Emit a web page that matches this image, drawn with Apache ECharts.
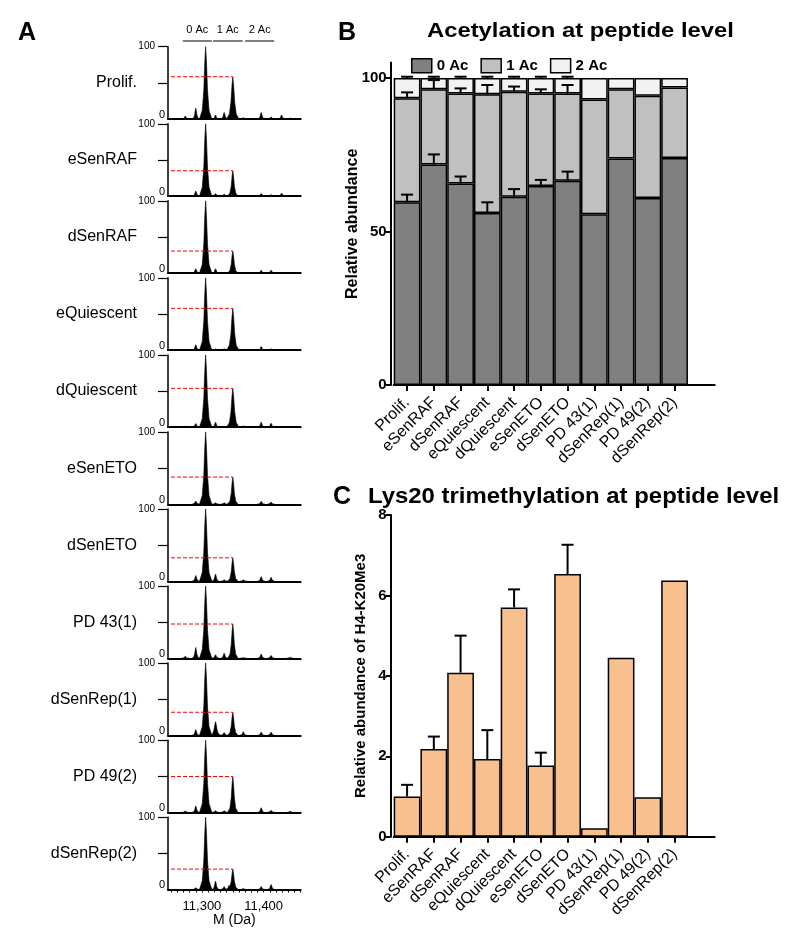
<!DOCTYPE html>
<html><head><meta charset="utf-8">
<script src="https://cdn.jsdelivr.net/npm/echarts@6/dist/echarts.min.js"></script>
<style>html,body{margin:0;padding:0;background:#fff}#c{width:800px;height:943px}</style>
</head><body><div id="c"></div>
<script>
// ---------- shared categories ----------
const samples = ['Prolif.', 'eSenRAF', 'dSenRAF', 'eQuiescent', 'dQuiescent', 'eSenETO', 'dSenETO', 'PD 43(1)', 'dSenRep(1)', 'PD 49(2)', 'dSenRep(2)'];

// ---------- Panel A: deconvoluted spectra (peak mass, relative intensity) ----------
const peakMass = [11273, 11290, 11306, 11322, 11336, 11344, 11350, 11367, 11396, 11412, 11429, 11443];
const acPeakMass = 11350; // 1 Ac peak (dashed red reference)
const specProlif     = [4,   15,  100, 5.5,  9,   0, 58.5, 2,   9,   3,   5.5, 1.5];
const specESenRAF    = [1,   7,   100, 3.5,  2.5, 0, 35,   0,   3.5, 2,   4,   0];
const specDSenRAF    = [0,   6,   100, 6,    1,   0, 30.5, 0,   4,   4,   1,   0];
const specEQuiescent = [0,   7.5, 100, 2,    2,   0, 57.8, 0,   5,   2,   0,   0];
const specDQuiescent = [1.5, 5,   100, 7,    1,   0, 53.7, 2,   7,   5.5, 0,   0];
const specESenETO    = [0,   4.5, 100, 2,    2,   0, 37.6, 0,   4,   3,   0,   0];
const specDSenETO    = [0,   8,   100, 10,   2,   0, 32.5, 2,   6.5, 5.5, 0,   0];
const specPD43       = [3,   15,  100, 5,    7,   0, 47.5, 1,   6,   4,   0,   1.5];
const specDSenRep1   = [0,   8,   100, 19,   4,   0, 32,   5,   4.5, 4.5, 0,   0];
const specPD49       = [2,   9,   100, 2.5,  2.5, 0, 49.7, 0,   6.5, 3,   0,   1.5];
const specDSenRep2   = [0,   2.5, 100, 11.5, 4,   6, 28.2, 1.5, 4,   7,   0,   0];
const spectra = [specProlif, specESenRAF, specDSenRAF, specEQuiescent, specDQuiescent, specESenETO, specDSenETO, specPD43, specDSenRep1, specPD49, specDSenRep2];
const massTickLabels = [11300, 11400];
const acGroupNames = ['0 Ac', '1 Ac', '2 Ac'];
const acGroupStart = [11269, 11318, 11370];
const acGroupEnd   = [11316, 11366, 11417];

// ---------- Panel B: acetylation (stacked %) ----------
const ac0 = [59.5, 71.8, 65.6, 56.0, 61.3, 64.8, 66.5, 55.6, 73.8, 60.9, 73.9];
const ac1 = [33.9, 24.5, 29.3, 38.7, 34.2, 30.1, 28.4, 37.4, 22.5, 33.3, 23.0];
const ac2 = [6.6, 3.7, 5.1, 5.3, 4.5, 5.1, 5.1, 7.0, 3.7, 5.8, 3.1];
const ac0Err = [2.5, 3.3, 2.3, 3.5, 2.5, 2.0, 3.0, null, null, null, null];
const ac1Err = [1.9, 3.0, 1.7, 3.0, 1.7, 1.4, 2.8, null, null, null, null];
const ac2Err = [0.4, 0.4, 0.4, 0.4, 0.4, 0.4, 0.4, null, null, null, null];
const bTicks = [0, 50, 100];

// ---------- Panel C: H4-K20Me3 ----------
const k20me3 = [1.0, 2.18, 4.08, 1.93, 5.70, 1.77, 6.53, 0.21, 4.45, 0.98, 6.37];
const k20me3Err = [0.29, 0.31, 0.92, 0.72, 0.45, 0.32, 0.73, null, null, null, null];

// ---------- build ----------
const FONT = '"Liberation Sans", Arial, sans-serif';
const chart = echarts.init(document.getElementById('c'));
const grids = [], xAxes = [], yAxes = [], series = [];

const A_TOP = 46.7, A_PITCH = 77.05, A_H = 72.3, A_LEFT = 168, A_W = 132.7;
const A_MIN = 11245, A_MAX = 11460;
const minorTicks = [];
for (let v = 11250; v <= A_MAX; v += 10) minorTicks.push(v);

function renderPeak(params, api) {
  const m = api.value(0), h = api.value(1);
  if (!h) return null;
  const w = h > 50 ? 10 : (h > 15 ? 8.5 : 6);
  const prof = [[-1, 0], [-0.55, 0.12], [-0.3, 0.4], [-0.13, 0.8], [0, 1], [0.13, 0.8], [0.3, 0.4], [0.55, 0.12], [1, 0]];
  const pts = prof.map(p => api.coord([m + p[0] * w, p[1] * h]));
  const children = [{ type: 'polygon', shape: { points: pts }, style: { fill: '#000', stroke: '#000', lineWidth: 0.6 } }];
  if (m === acPeakMass) {
    const a = api.coord([A_MIN, h]), b = api.coord([m, h]);
    children.push({ type: 'line', shape: { x1: a[0] + 3, y1: a[1], x2: b[0], y2: b[1] },
      style: { stroke: '#ff0000', lineWidth: 1, lineDash: [4, 2] } });
  }
  return { type: 'group', children };
}

spectra.forEach((sp, i) => {
  const last = i === spectra.length - 1;
  grids.push({ left: A_LEFT, top: A_TOP + i * A_PITCH, width: A_W, height: A_H });
  xAxes.push({
    gridIndex: i, type: 'value', min: A_MIN, max: A_MAX,
    axisLine: { show: true, onZero: false, lineStyle: { color: '#000', width: 2 } },
    splitLine: { show: false },
    axisTick: { show: last, customValues: minorTicks, length: 3, lineStyle: { color: '#000', width: 1 } },
    axisLabel: { show: last, customValues: massTickLabels, margin: 10, fontSize: 13, color: '#000', fontFamily: FONT,
      formatter: v => String(v).replace(/(\d)(\d{3})$/, '$1,$2') },
    name: last ? 'M (Da)' : '', nameLocation: 'middle', nameGap: 24,
    nameTextStyle: { fontSize: 14, color: '#000', fontFamily: FONT }
  });
  const nm = samples[i];
  yAxes.push({
    gridIndex: i, type: 'value', min: 0, max: 100,
    axisLine: { show: true, lineStyle: { color: '#000', width: 1.5 } },
    splitLine: { show: false },
    axisTick: { show: true, customValues: [50, 100], length: 10, lineStyle: { color: '#000', width: 1.2 } },
    axisLabel: {
      customValues: [0, 50, 100], margin: 2, color: '#000', fontFamily: FONT,
      formatter: v => v === 100 ? '{t|100}' : (v === 50 ? '{n|' + nm + '}' : '{z|0}'),
      rich: {
        t: { fontSize: 10, color: '#000', fontFamily: FONT, padding: [0, 11, 0, 0] },
        n: { fontSize: 16, color: '#000', fontFamily: FONT, padding: [0, 29, 0, 0] },
        z: { fontSize: 11, color: '#000', fontFamily: FONT, padding: [0, 1, 9, 0] }
      }
    }
  });
  series.push({
    type: 'custom', xAxisIndex: i, yAxisIndex: i, silent: true, clip: false,
    data: peakMass.map((m, k) => [m, sp[k]]), encode: { x: 0, y: 1 },
    renderItem: renderPeak
  });
});

// brackets above first spectrum
series.push({
  type: 'custom', xAxisIndex: 0, yAxisIndex: 0, silent: true, clip: false,
  data: acGroupNames.map((n, k) => [acGroupStart[k], acGroupEnd[k], 107.9]),
  encode: { x: [0, 1], y: 2 },
  renderItem: (params, api) => {
    const a = api.coord([api.value(0), api.value(2)]), b = api.coord([api.value(1), api.value(2)]);
    return { type: 'group', children: [
      { type: 'line', shape: { x1: a[0], y1: a[1], x2: b[0], y2: b[1] }, style: { stroke: '#000', lineWidth: 1 } },
      { type: 'text', style: { text: acGroupNames[params.dataIndex], x: (a[0] + b[0]) / 2, y: a[1] - 11,
        align: 'center', verticalAlign: 'middle', font: '11px ' + FONT, fill: '#000' } }
    ] };
  }
});

// ---------- Panels B & C ----------
const catData = samples.concat(['']);
const BIDX = spectra.length, CIDX = spectra.length + 1;
const BAR_LEFT = 393.7, BAR_W = 321;
grids.push({ left: BAR_LEFT, top: 62.6, width: BAR_W, height: 322.4 });
grids.push({ left: BAR_LEFT, top: 515, width: BAR_W, height: 321.7 });

function catXAxis(gi) {
  return {
    gridIndex: gi, type: 'category', data: catData,
    axisLine: { show: true, lineStyle: { color: '#000', width: 2 } },
    axisTick: { show: true, alignWithLabel: true, length: 6, interval: (idx, val) => val !== '', lineStyle: { color: '#000', width: 2 } },
    axisLabel: { interval: 0, rotate: 45, margin: 15, fontSize: 16, color: '#000', fontFamily: FONT }
  };
}
xAxes.push(catXAxis(BIDX));
xAxes.push(catXAxis(CIDX));

yAxes.push({
  gridIndex: BIDX, type: 'value', min: 0, max: 105, offset: 3,
  axisLine: { show: true, lineStyle: { color: '#000', width: 2 } },
  splitLine: { show: false },
  axisTick: { show: true, customValues: bTicks, length: 5, lineStyle: { color: '#000', width: 2 } },
  axisLabel: { customValues: bTicks, margin: 4, fontSize: 15, fontWeight: 'bold', color: '#000', fontFamily: FONT },
  name: 'Relative abundance', nameLocation: 'middle', nameGap: 30, nameMoveOverlap: false,
  nameTextStyle: { fontSize: 16, fontWeight: 'bold', color: '#000', fontFamily: FONT }
});
yAxes.push({
  gridIndex: CIDX, type: 'value', min: 0, max: 8, interval: 2, offset: 3,
  axisLine: { show: true, lineStyle: { color: '#000', width: 2 } },
  splitLine: { show: false },
  axisTick: { show: true, length: 5, lineStyle: { color: '#000', width: 2 } },
  axisLabel: { margin: 4, fontSize: 15, fontWeight: 'bold', color: '#000', fontFamily: FONT },
  name: 'Relative abundance of H4-K20Me3', nameLocation: 'middle', nameGap: 22, nameMoveOverlap: false,
  nameTextStyle: { fontSize: 15, fontWeight: 'bold', color: '#000', fontFamily: FONT }
});

const barBorder = { borderColor: '#000', borderWidth: 1.5 };
[['0 Ac', ac0, '#808080'], ['1 Ac', ac1, '#c0c0c0'], ['2 Ac', ac2, '#f2f2f2']].forEach(([n, d, c]) => {
  series.push({ name: n, type: 'bar', stack: 'ac', xAxisIndex: BIDX, yAxisIndex: BIDX, data: d,
    barCategoryGap: '0%', itemStyle: Object.assign({ color: c }, barBorder), silent: true });
});
series.push({ name: 'K20Me3', type: 'bar', xAxisIndex: CIDX, yAxisIndex: CIDX, data: k20me3,
  barCategoryGap: '0%', itemStyle: Object.assign({ color: '#f9c08f' }, barBorder), silent: true });

function renderErr(params, api) {
  const x = api.value(0), base = api.value(1), e = api.value(2);
  const p0 = api.coord([x, base]), p1 = api.coord([x, base + e]);
  return { type: 'group', children: [
    { type: 'line', shape: { x1: p0[0], y1: p0[1], x2: p1[0], y2: p1[1] }, style: { stroke: '#000', lineWidth: 2 } },
    { type: 'line', shape: { x1: p1[0] - 6, y1: p1[1], x2: p1[0] + 6, y2: p1[1] }, style: { stroke: '#000', lineWidth: 2 } }
  ] };
}
const errB = [];
samples.forEach((s, i) => {
  if (ac0Err[i] != null) errB.push([i, ac0[i], ac0Err[i]]);
  if (ac1Err[i] != null) errB.push([i, ac0[i] + ac1[i], ac1Err[i]]);
  if (ac2Err[i] != null) errB.push([i, ac0[i] + ac1[i] + ac2[i], ac2Err[i]]);
});
series.push({ type: 'custom', xAxisIndex: BIDX, yAxisIndex: BIDX, data: errB, encode: { x: 0, y: 1 },
  renderItem: renderErr, z: 5, silent: true, clip: false });
const errC = [];
samples.forEach((s, i) => { if (k20me3Err[i] != null) errC.push([i, k20me3[i], k20me3Err[i]]); });
series.push({ type: 'custom', xAxisIndex: CIDX, yAxisIndex: CIDX, data: errC, encode: { x: 0, y: 1 },
  renderItem: renderErr, z: 5, silent: true, clip: false });

chart.setOption({
  animation: false,
  backgroundColor: '#fff',
  textStyle: { fontFamily: FONT },
  grid: grids, xAxis: xAxes, yAxis: yAxes, series,
  legend: {
    data: ['0 Ac', '1 Ac', '2 Ac'], left: 406, top: 53, icon: 'rect', itemWidth: 20, itemHeight: 14, itemGap: 12,
    selectedMode: false,
    itemStyle: { borderColor: '#000', borderWidth: 1.5 },
    textStyle: { fontSize: 15, fontWeight: 'bold', color: '#000', fontFamily: FONT }
  },
  graphic: [
    { type: 'text', x: 18, y: 33, style: { text: 'A', font: 'bold 25px ' + FONT, fill: '#000', verticalAlign: 'middle' } },
    { type: 'text', x: 338, y: 33, style: { text: 'B', font: 'bold 25px ' + FONT, fill: '#000', verticalAlign: 'middle' } },
    { type: 'text', x: 427, y: 31, scaleX: 1.19, style: { text: 'Acetylation at peptide level', font: 'bold 20px ' + FONT, fill: '#000', verticalAlign: 'middle' } },
    { type: 'text', x: 333, y: 497, style: { text: 'C', font: 'bold 25px ' + FONT, fill: '#000', verticalAlign: 'middle' } },
    { type: 'text', x: 368, y: 497, scaleX: 1.087, style: { text: 'Lys20 trimethylation at peptide level', font: 'bold 22px ' + FONT, fill: '#000', verticalAlign: 'middle' } }
  ]
});
</script></body></html>
